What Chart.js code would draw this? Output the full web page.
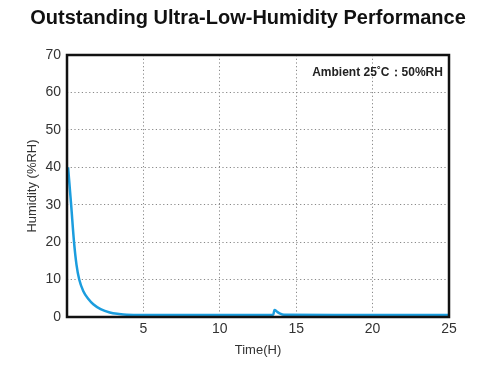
<!DOCTYPE html>
<html>
<head>
<meta charset="utf-8">
<script src="https://cdn.jsdelivr.net/npm/chart.js@4"></script>
<style>
  html, body { margin: 0; padding: 0; background: #fff; }
  #wrap { width: 485px; height: 371px; }
</style>
</head>
<body>
<div id="wrap"><canvas id="myChart" width="485" height="371"></canvas></div>
<script>
// humidity curve
var timeH    = [0.07, 0.27, 0.46, 0.62, 0.8, 1.07, 1.4, 1.72, 2.2, 2.8, 3.4, 3.9, 5, 8, 12, 13.5, 13.58, 13.75, 13.95, 14.2, 18, 22, 25];
var humidity = [40, 30, 20, 14, 10, 6.9, 4.8, 3.4, 2.1, 1.2, 0.8, 0.6, 0.55, 0.55, 0.55, 0.6, 1.9, 1.4, 0.9, 0.6, 0.55, 0.55, 0.55];
var yTicks   = [0, 10, 20, 30, 40, 50, 60, 70];
var xTicks   = [5, 10, 15, 20, 25];
var chartTitle = 'Outstanding Ultra-Low-Humidity Performance';
var noteText   = 'Ambient 25\u02daC\uff1a50%RH';

var points = timeH.map(function (t, i) { return { x: t, y: humidity[i] }; });

// title, box round the plot and the ambient note
var frame = {
    id: 'frame',
    afterDraw: function (chart) {
        var a = chart.chartArea, ctx = chart.ctx;
        ctx.save();
        ctx.strokeStyle = '#111';
        ctx.lineWidth = 2.5;
        ctx.strokeRect(a.left, a.top, a.right - a.left, a.bottom - a.top);

        ctx.fillStyle = '#111';
        ctx.font = 'bold 20px "Liberation Sans", Arial, sans-serif';
        ctx.textAlign = 'center';
        ctx.textBaseline = 'middle';
        ctx.fillText(chartTitle, 248, 18);

        ctx.fillStyle = '#222';
        ctx.font = 'bold 12px "Liberation Sans", Arial, sans-serif';
        ctx.textAlign = 'right';
        ctx.fillText(noteText, chart.scales.x.getPixelForValue(24.6), chart.scales.y.getPixelForValue(65.3));
        ctx.restore();
    }
};

var ctx = document.getElementById('myChart').getContext('2d');
var chart = new Chart(ctx, {
    type: 'line',
    data: {
        datasets: [{
            data: points,
            borderColor: 'rgb(27, 157, 222)',
            borderWidth: 2.5,
            pointRadius: 0,
            cubicInterpolationMode: 'monotone',
            fill: false
        }]
    },
    options: {
        responsive: false,
        animation: false,
        layout: { padding: { left: 0, right: 36, top: 55, bottom: 0 } },
        plugins: {
            legend: { display: false },
            tooltip: { enabled: false },
            title: { display: false }
        },
        scales: {
            x: {
                type: 'linear',
                min: 0,
                max: 25,
                afterBuildTicks: function (s) { s.ticks = xTicks.map(function (v) { return { value: v }; }); },
                afterFit: function (s) { s.height = 54; },
                border: { display: false, dash: [1.2, 2.5] },
                grid: {
                    drawTicks: false,
                    color: function (c) { return c.tick.value >= 25 ? 'transparent' : '#888'; },
                    lineWidth: 1
                },
                ticks: {
                    color: '#333',
                    padding: 4,
                    maxRotation: 0,
                    font: { family: '"Liberation Sans", Arial, sans-serif', size: 14 }
                },
                title: {
                    display: true,
                    text: 'Time(H)',
                    color: '#333',
                    font: { family: '"Liberation Sans", Arial, sans-serif', size: 13 },
                    padding: { top: 0, bottom: 13 }
                }
            },
            y: {
                min: 0,
                max: 70,
                afterBuildTicks: function (s) { s.ticks = yTicks.map(function (v) { return { value: v }; }); },
                afterFit: function (s) { s.width = 67; },
                border: { display: false, dash: [1.2, 2.5] },
                grid: {
                    drawTicks: false,
                    color: function (c) { return (c.tick.value <= 0 || c.tick.value >= 70) ? 'transparent' : '#888'; },
                    lineWidth: 1
                },
                ticks: {
                    color: '#333',
                    padding: 6,
                    font: { family: '"Liberation Sans", Arial, sans-serif', size: 14 }
                },
                title: {
                    display: true,
                    text: 'Humidity (%RH)',
                    color: '#333',
                    font: { family: '"Liberation Sans", Arial, sans-serif', size: 13 },
                    padding: { top: 25, bottom: 0 }
                }
            }
        }
    },
    plugins: [frame]
});
</script>
</body>
</html>
